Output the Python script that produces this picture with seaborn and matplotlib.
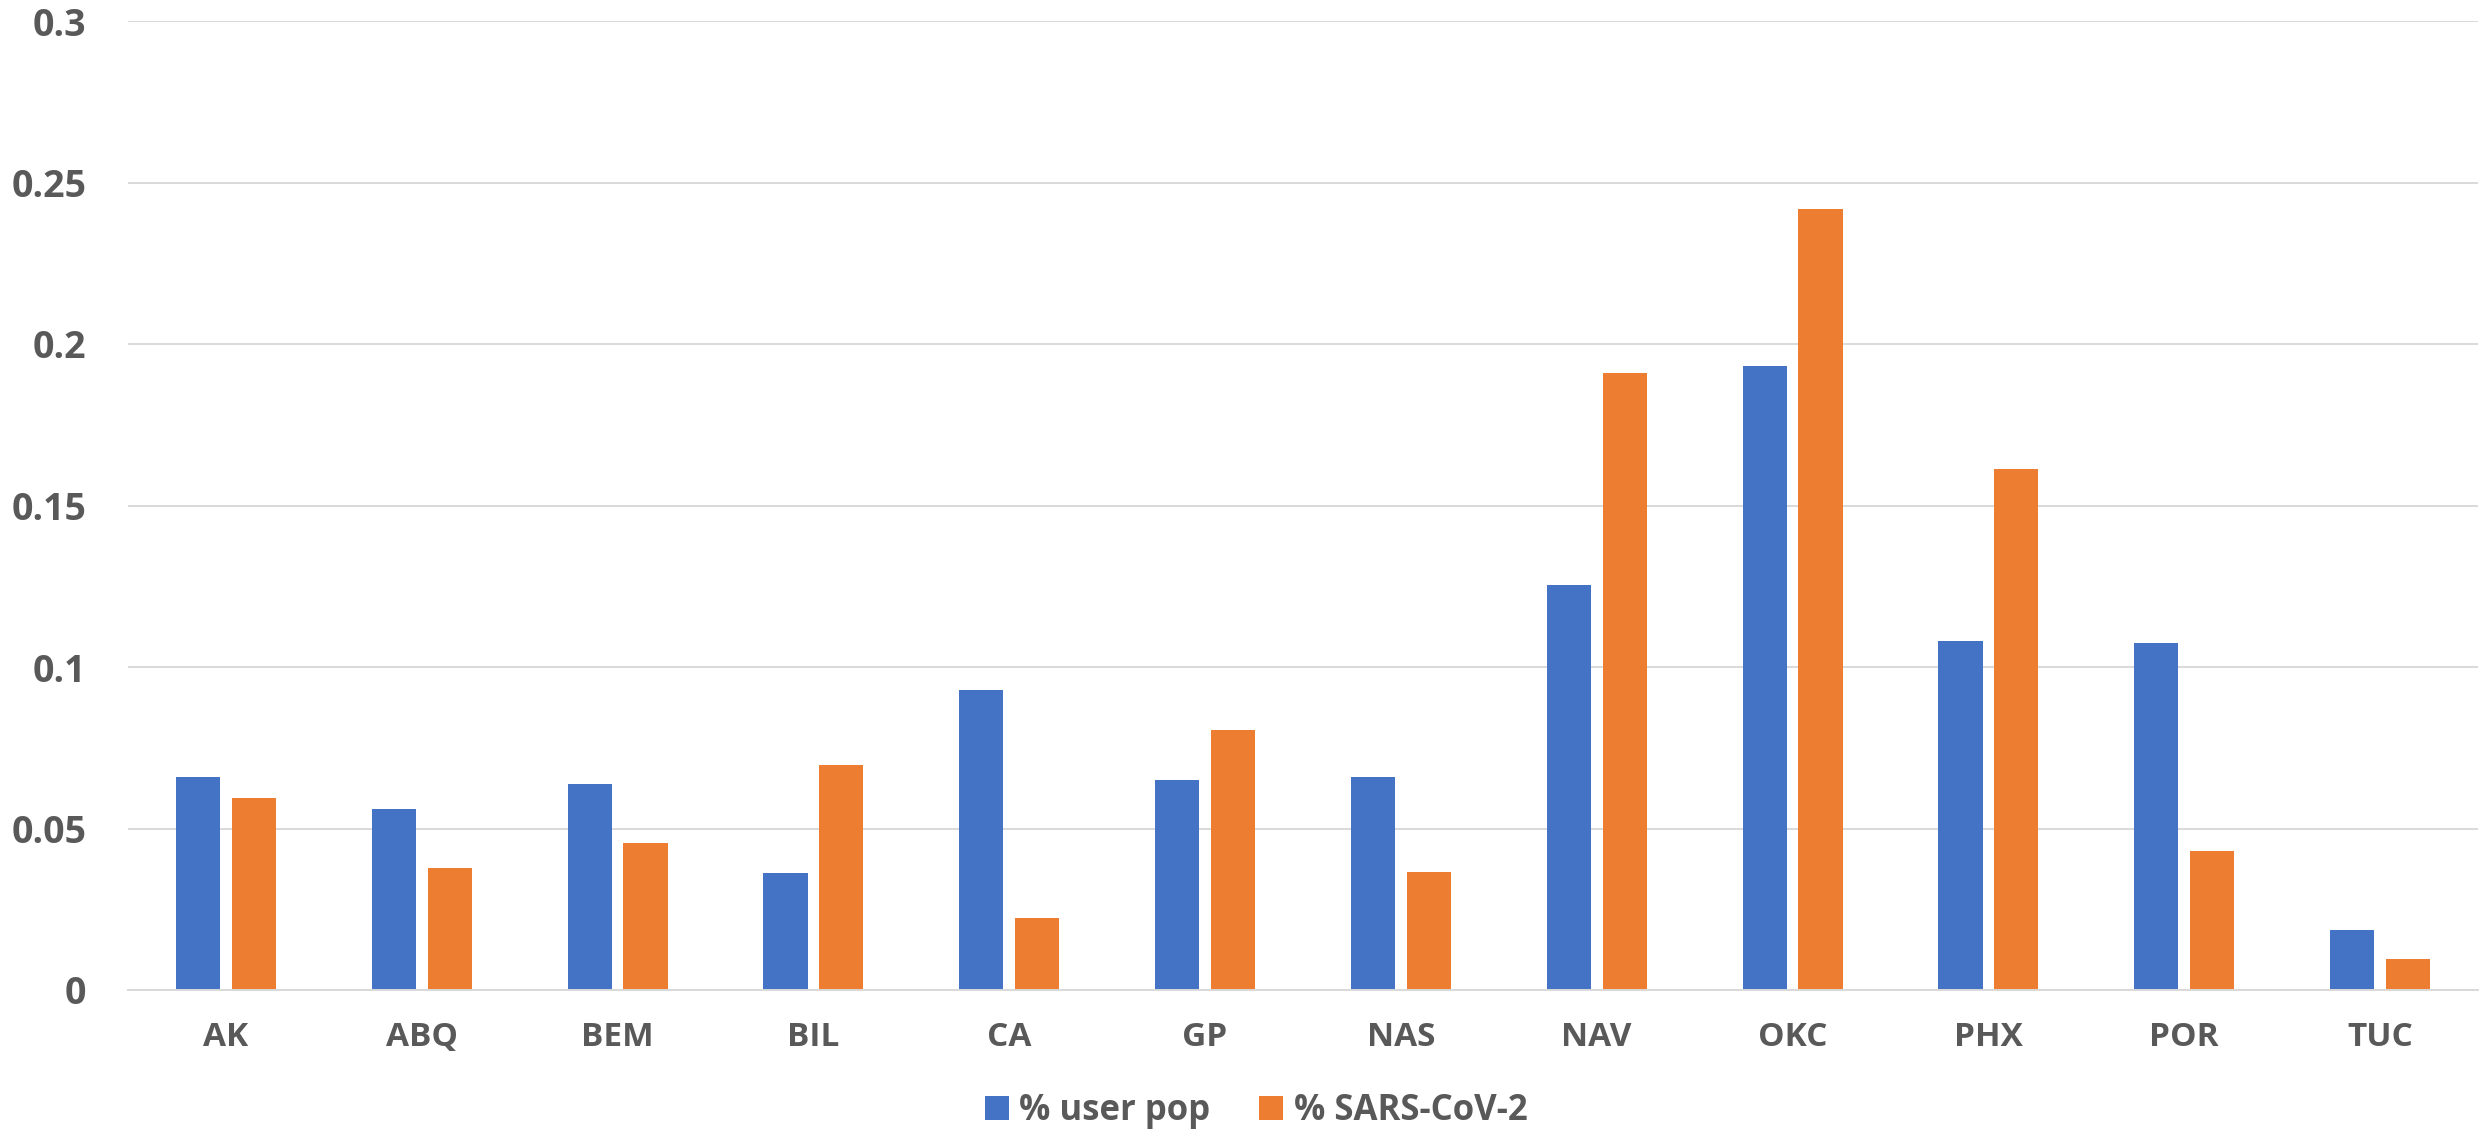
import pandas as pd
import matplotlib.pyplot as plt
import seaborn as sns

# ── Data ──────────────────────────────────────────────────────
sites = ['AK', 'ABQ', 'BEM', 'BIL', 'CA', 'GP', 'NAS', 'NAV', 'OKC', 'PHX', 'POR', 'TUC']
user_pop = [0.0659, 0.0559, 0.0637, 0.0362, 0.0930, 0.0650, 0.0660, 0.1253, 0.1933, 0.1079, 0.1073, 0.0187]
sars_cov2 = [0.0594, 0.0379, 0.0454, 0.0696, 0.0222, 0.0804, 0.0364, 0.1911, 0.2417, 0.1614, 0.0429, 0.0096]
series = ['% user pop', '% SARS-CoV-2']
colors = {'% user pop': '#4472C4', '% SARS-CoV-2': '#ED7D31'}

df = pd.DataFrame({
    'Site': sites * 2,
    'Value': user_pop + sars_cov2,
    'Series': [series[0]] * len(sites) + [series[1]] * len(sites),
})

sns.set_theme(style='white')
plt.rcParams['font.family'] = ['Open Sans', 'DejaVu Sans']
text_color = '#595959'

fig = plt.figure(figsize=(24.84, 11.38), dpi=100)
ax = fig.add_axes([128 / 2484, 1 - 990 / 1138, 2350 / 2484, (990 - 21) / 1138])

sns.barplot(data=df, x='Site', y='Value', hue='Series', palette=colors,
            width=0.57, gap=0.21, linewidth=0, saturation=1, ax=ax)

ax.set_ylim(0, 0.3)
ax.set_xlim(-0.5, len(sites) - 0.5)
ax.set_yticks([0, 0.05, 0.1, 0.15, 0.2, 0.25, 0.3])
ax.set_yticklabels(['0', '0.05', '0.1', '0.15', '0.2', '0.25', '0.3'])
ax.set_xlabel('')
ax.set_ylabel('')

ax.yaxis.grid(True, color='#D9D9D9', linewidth=1.4)
ax.set_axisbelow(True)
for side in ['top', 'right', 'left']:
    ax.spines[side].set_visible(False)
ax.spines['bottom'].set_color('#D9D9D9')
ax.spines['bottom'].set_linewidth(1.4)

ax.tick_params(axis='y', length=0, pad=30, labelsize=27, labelcolor=text_color)
ax.tick_params(axis='x', length=0, pad=22, labelsize=24, labelcolor=text_color)
for lbl in ax.get_yticklabels() + ax.get_xticklabels():
    lbl.set_fontweight('bold')

# legend below the plot
ax.get_legend().remove()
handles, labels = ax.get_legend_handles_labels()
leg = fig.legend(handles, labels, loc='center', bbox_to_anchor=(1256 / 2484, 1 - 1111 / 1138),
                 ncol=2, frameon=False, fontsize=25, handlelength=0.7, handleheight=0.7,
                 handletextpad=0.3, columnspacing=1.4)
for t in leg.get_texts():
    t.set_color(text_color)
    t.set_fontweight('bold')

fig.savefig('out.png', dpi=100)
